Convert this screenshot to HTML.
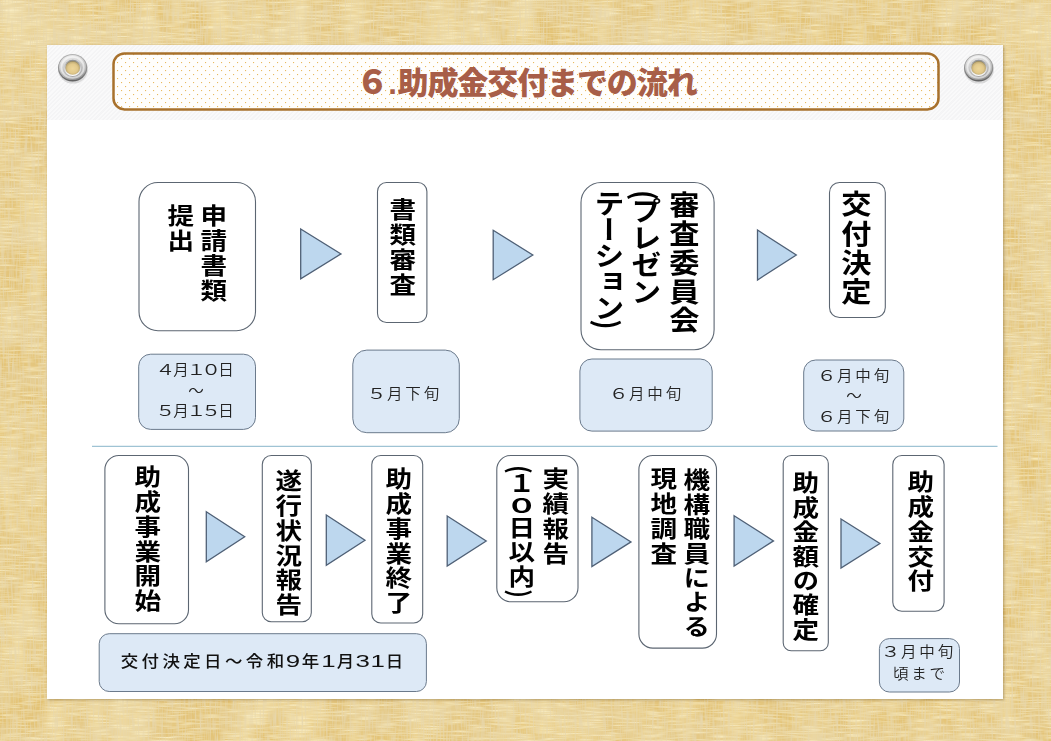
<!DOCTYPE html>
<html lang="ja"><head><meta charset="utf-8"><title>6.助成金交付までの流れ</title>
<style>
html,body{margin:0;padding:0}
body{width:1051px;height:741px;overflow:hidden;position:relative;background:#e6d196;font-family:"Liberation Sans","Noto Sans CJK JP",sans-serif}
#bg{position:absolute;left:0;top:0;width:1051px;height:741px}
#sheet{position:absolute;left:47.3px;top:44.8px;width:956px;height:653.8px;background:#fff;box-shadow:1px 1px 2.5px rgba(90,60,10,.38)}
#band{position:absolute;left:0;top:0;width:100%;height:75.5px;background:#f5f5f6 repeating-linear-gradient(135deg,rgba(255,255,255,.45) 0 1.5px,rgba(240,240,242,.1) 1.5px 3px)}
#ttext{position:absolute;z-index:3;left:356px;top:61.2px;height:44px;line-height:44px;font-size:31px;font-weight:900;color:#a85e48;white-space:nowrap;letter-spacing:-1.1px;font-family:"Liberation Sans","Noto Sans CJK JP",sans-serif}
#shapes{position:absolute;left:0;top:0}
.v{position:absolute;writing-mode:vertical-rl;text-orientation:mixed;line-height:1;font-weight:700;transform:scaleY(.94);transform-origin:50% 0;letter-spacing:.064em;color:#000;white-space:nowrap;font-family:"Noto Sans CJK JP","Liberation Sans",sans-serif}
.z{display:inline-block;letter-spacing:-2.6px;transform:scale(1.22,.86);transform-origin:50% 40%}
.d{position:absolute;width:120px;height:20px;text-align:center;color:#222;font-weight:350;white-space:nowrap;font-family:"Liberation Sans","Noto Sans CJK JP",sans-serif;font-size:14.6px;line-height:20px;transform:scaleX(1.064);letter-spacing:var(--ls);text-indent:var(--ls)}
.w{display:inline-block;letter-spacing:0;text-indent:0;margin-right:var(--ls);transform:scaleX(1.3)}
.n{display:inline-block;width:10.05px;margin-right:var(--ls);letter-spacing:0;text-indent:0;text-align:center;transform:scaleX(1.42);font-size:17px}
.g{position:absolute;width:30px;height:30px}
</style></head><body>
<svg id="bg" width="1051" height="741">
<defs>
<filter id="fh" x="0" y="0" width="100%" height="100%"><feTurbulence type="fractalNoise" baseFrequency="0.045 0.6" numOctaves="2" seed="3"/><feColorMatrix values="0 0 0 0 0.965  0 0 0 0 0.872  0 0 0 0 0.575  1.9 0 0 0 -0.80"/></filter>
<filter id="fv" x="0" y="0" width="100%" height="100%"><feTurbulence type="fractalNoise" baseFrequency="0.6 0.045" numOctaves="2" seed="8"/><feColorMatrix values="0 0 0 0 0.80  0 0 0 0 0.68  0 0 0 0 0.42  1.9 0 0 0 -0.72"/></filter>
<filter id="fb" x="0" y="0" width="100%" height="100%"><feTurbulence type="fractalNoise" baseFrequency="0.035 0.012" numOctaves="3" seed="5"/><feColorMatrix values="0 0 0 0 0.96  0 0 0 0 0.868  0 0 0 0 0.565  1.1 0 0 0 -0.39"/></filter>
<filter id="fd" x="0" y="0" width="100%" height="100%"><feTurbulence type="fractalNoise" baseFrequency="0.012 0.04" numOctaves="3" seed="11"/><feColorMatrix values="0 0 0 0 0.81  0 0 0 0 0.69  0 0 0 0 0.43  1.0 0 0 0 -0.32"/></filter>
</defs>
<rect width="1051" height="741" fill="#e3c274"/>
<rect width="1051" height="741" filter="url(#fb)"/>
<rect width="1051" height="741" filter="url(#fd)"/>
<rect width="1051" height="741" filter="url(#fh)"/>
<rect width="1051" height="741" filter="url(#fv)"/>
</svg>
<div id="sheet"><div id="band"></div></div>
<div id="ttext"><span style="font-size:33px;letter-spacing:-0.7px">６</span><span style="letter-spacing:0.6px">.</span>助成金交付までの流れ</div>
<svg width="0" height="0" style="position:absolute"><defs>
<linearGradient id="go" x1="0" y1="0" x2="0" y2="1"><stop offset="0" stop-color="#b4b4b4"/><stop offset=".6" stop-color="#8d8d8d"/><stop offset="1" stop-color="#5f5f5f"/></linearGradient>
<linearGradient id="gm" x1="0.2" y1="0" x2="0.5" y2="1"><stop offset="0" stop-color="#ececec"/><stop offset=".4" stop-color="#d2d2d2"/><stop offset=".8" stop-color="#b2b2b2"/><stop offset="1" stop-color="#929292"/></linearGradient>
<linearGradient id="gi" x1="0" y1="0" x2="0" y2="1"><stop offset="0" stop-color="#8f8f8f"/><stop offset=".55" stop-color="#d8d8d8"/><stop offset="1" stop-color="#ffffff"/></linearGradient>
<radialGradient id="gh" cx=".5" cy=".55" r=".55"><stop offset="0" stop-color="#edd699"/><stop offset=".6" stop-color="#e2c98b"/><stop offset=".85" stop-color="#c4ae76"/><stop offset="1" stop-color="#85784f"/></radialGradient>
<g id="grom"><ellipse cx="15" cy="15.2" rx="15" ry="14.4" fill="rgba(110,110,110,.22)"/><ellipse cx="14.6" cy="13.8" rx="14.6" ry="13.8" fill="url(#go)"/><ellipse cx="14.6" cy="13.5" rx="13.5" ry="12.6" fill="url(#gm)"/><ellipse cx="14.6" cy="13.4" rx="11.2" ry="10.5" fill="none" stroke="#fff" stroke-opacity=".55" stroke-width="1.8"/><ellipse cx="14.7" cy="13.9" rx="8.5" ry="8.1" fill="url(#gi)"/><ellipse cx="14.7" cy="13.9" rx="7.3" ry="6.9" fill="url(#gh)"/></g>
</defs></svg>
<svg class="g" style="left:57.9px;top:53.8px" viewBox="0 0 30 30"><use href="#grom"/></svg>
<svg class="g" style="left:964px;top:53.9px" viewBox="0 0 30 30"><use href="#grom"/></svg>
<svg id="shapes" width="1051" height="741">
<defs><pattern id="dots" width="8" height="8" patternUnits="userSpaceOnUse" x="1" y="2"><rect x="0" y="0" width="1.1" height="1.1" fill="#e9bb60"/><rect x="4" y="4" width="1.1" height="1.1" fill="#e9bb60"/></pattern></defs><rect x="113.5" y="53.4" width="825" height="56" rx="11" fill="#fffefc"/><rect x="113.5" y="53.4" width="825" height="56" rx="11" fill="url(#dots)" stroke="#a8712c" stroke-width="2.5"/>
<rect x="139.0" y="182.5" width="116.5" height="148.3" rx="19" fill="#fff" stroke="#5c6672" stroke-width="1.1"/>
<rect x="377.5" y="182.5" width="49.4" height="140.0" rx="9" fill="#fff" stroke="#5c6672" stroke-width="1.1"/>
<rect x="581.0" y="182.5" width="133.1" height="167.3" rx="20" fill="#fff" stroke="#5c6672" stroke-width="1.1"/>
<rect x="829.5" y="182.5" width="55.8" height="135.0" rx="10" fill="#fff" stroke="#5c6672" stroke-width="1.1"/>
<rect x="104.9" y="455.5" width="83.6" height="168.3" rx="14" fill="#fff" stroke="#5c6672" stroke-width="1.1"/>
<rect x="262.3" y="455.5" width="49.0" height="166.3" rx="9" fill="#fff" stroke="#5c6672" stroke-width="1.1"/>
<rect x="371.8" y="455.5" width="50.9" height="167.5" rx="9" fill="#fff" stroke="#5c6672" stroke-width="1.1"/>
<rect x="496.8" y="455.5" width="81.2" height="146.3" rx="14" fill="#fff" stroke="#5c6672" stroke-width="1.1"/>
<rect x="638.9" y="455.5" width="77.6" height="192.6" rx="14" fill="#fff" stroke="#5c6672" stroke-width="1.1"/>
<rect x="783.2" y="455.5" width="45.1" height="195.3" rx="8" fill="#fff" stroke="#5c6672" stroke-width="1.1"/>
<rect x="892.8" y="455.5" width="51.3" height="155.8" rx="9" fill="#fff" stroke="#5c6672" stroke-width="1.1"/>
<rect x="138.7" y="354.2" width="116.8" height="75.2" rx="12" fill="#dde9f6" stroke="#6b7a8c" stroke-width="1"/>
<rect x="352.8" y="350.1" width="106.5" height="82.6" rx="14" fill="#dde9f6" stroke="#6b7a8c" stroke-width="1"/>
<rect x="579.9" y="359.0" width="132.3" height="72.1" rx="12" fill="#dde9f6" stroke="#6b7a8c" stroke-width="1"/>
<rect x="803.7" y="360.0" width="100.1" height="71.0" rx="12" fill="#dde9f6" stroke="#6b7a8c" stroke-width="1"/>
<rect x="99.2" y="633.7" width="327.2" height="57.8" rx="10" fill="#dde9f6" stroke="#6b7a8c" stroke-width="1"/>
<rect x="879.4" y="638.6" width="80.1" height="53.4" rx="10" fill="#dde9f6" stroke="#6b7a8c" stroke-width="1"/>
<polygon points="300.7,229.0 341.0,253.9 300.7,278.8" fill="#bdd7ee" stroke="#4f6076" stroke-width="1.3" stroke-linejoin="miter"/>
<polygon points="493.2,230.3 532.8,255.0 493.2,279.7" fill="#bdd7ee" stroke="#4f6076" stroke-width="1.3" stroke-linejoin="miter"/>
<polygon points="757.5,230.0 796.3,255.0 757.5,280.0" fill="#bdd7ee" stroke="#4f6076" stroke-width="1.3" stroke-linejoin="miter"/>
<polygon points="206.3,511.7 244.7,536.8 206.3,561.8" fill="#bdd7ee" stroke="#4f6076" stroke-width="1.3" stroke-linejoin="miter"/>
<polygon points="326.3,515.0 365.0,540.2 326.3,565.4" fill="#bdd7ee" stroke="#4f6076" stroke-width="1.3" stroke-linejoin="miter"/>
<polygon points="447.2,516.0 486.2,541.0 447.2,566.0" fill="#bdd7ee" stroke="#4f6076" stroke-width="1.3" stroke-linejoin="miter"/>
<polygon points="591.9,517.2 631.0,541.9 591.9,566.6" fill="#bdd7ee" stroke="#4f6076" stroke-width="1.3" stroke-linejoin="miter"/>
<polygon points="734.1,515.8 773.5,540.9 734.1,566.0" fill="#bdd7ee" stroke="#4f6076" stroke-width="1.3" stroke-linejoin="miter"/>
<polygon points="841.0,519.0 879.9,543.5 841.0,568.0" fill="#bdd7ee" stroke="#4f6076" stroke-width="1.3" stroke-linejoin="miter"/>
<line x1="92" y1="446.3" x2="997.5" y2="446.3" stroke="#9fc3d4" stroke-width="1.2"/>
</svg>
<div class="v" style="left:201.15px;top:204.1px;width:24.7px;font-size:24.7px;transform:scale(1.075,.94)">申請書類</div>
<div class="v" style="left:167.65px;top:204.1px;width:24.7px;font-size:24.7px;transform:scale(1.075,.94)">提出</div>
<div class="v" style="left:390.25px;top:198.4px;width:24.7px;font-size:24.7px;transform:scale(1.075,.94)">書類審査</div>
<div class="v" style="left:668.85px;top:191.3px;width:29.3px;font-size:29.3px;letter-spacing:1.3px;transform:scale(1.03,.94)">審査委員会</div>
<div class="v" style="left:631.35px;top:189.6px;width:29.3px;font-size:29.3px;letter-spacing:-0.9px;transform:scale(1.03,.94)"><span style="letter-spacing:-3.4px">(</span>プレゼン</div>
<div class="v" style="left:593.85px;top:190.2px;width:29.3px;font-size:29.3px;letter-spacing:-1.8px;transform:scale(1.03,.94)">テーション)</div>
<div class="v" style="left:840.55px;top:190.0px;width:29.3px;font-size:29.3px;transform:scale(1.03,.94)">交付決定</div>
<div class="v" style="left:134.65px;top:464.8px;width:24.7px;font-size:24.7px;transform:scale(1.075,.94)">助成事業開始</div>
<div class="v" style="left:276.15px;top:468.8px;width:24.7px;font-size:24.7px;transform:scale(1.075,.94)">遂行状況報告</div>
<div class="v" style="left:385.95px;top:466.8px;width:24.7px;font-size:24.7px;transform:scale(1.075,.94)">助成事業終了</div>
<div class="v" style="left:543.25px;top:466.8px;width:24.7px;font-size:24.7px;transform:scale(1.075,.94)">実績報告</div>
<div class="v" style="left:509.45px;top:464.6px;width:24.7px;font-size:24.7px;transform:scale(1.075,.94)"><span style="letter-spacing:-1.6px">(</span><span style="letter-spacing:-1.2px">１</span><span class="z">０</span>日以内)</div>
<div class="v" style="left:684.05px;top:467.5px;width:24.7px;font-size:24.7px;letter-spacing:1.22px;transform:scale(1.075,.94)">機構職員による</div>
<div class="v" style="left:650.85px;top:467.3px;width:24.7px;font-size:24.7px;transform:scale(1.075,.94)">現地調査</div>
<div class="v" style="left:793.25px;top:471.3px;width:24.7px;font-size:24.7px;letter-spacing:1.22px;transform:scale(1.075,.94)">助成金額の確定</div>
<div class="v" style="left:907.65px;top:470.0px;width:24.7px;font-size:24.7px;transform:scale(1.075,.94)">助成金交付</div>
<div class="d" style="left:136.2px;top:360.4px;--ls:-0.47px"><span class="w">４</span>月<span class="w">１</span><span class="w">０</span>日</div>
<div class="d" style="left:136.0px;top:381.0px;--ls:0px">～</div>
<div class="d" style="left:136.2px;top:401.0px;--ls:-0.47px"><span class="w">５</span>月<span class="w">１</span><span class="w">５</span>日</div>
<div class="d" style="left:344.0px;top:383.7px;--ls:2.6px"><span class="w">５</span>月下旬</div>
<div class="d" style="left:585.8px;top:383.9px;--ls:2.6px"><span class="w">６</span>月中旬</div>
<div class="d" style="left:793.6px;top:366.2px;--ls:2.6px"><span class="w">６</span>月中旬</div>
<div class="d" style="left:793.9px;top:385.5px;--ls:0px">～</div>
<div class="d" style="left:793.6px;top:406.9px;--ls:2.6px"><span class="w">６</span>月下旬</div>
<div class="d" style="left:858.0px;top:641.7px;--ls:2.6px"><span class="w">３</span>月中旬</div>
<div class="d" style="left:858.8px;top:663.6px;--ls:2.5px">頃まで</div>
<div class="d" id="d5" style="left:98.3px;top:649px;width:328px;height:24px;font-weight:500;font-size:16.3px;line-height:24px;--ls:3.2px;color:#111;transform:scaleX(1.07)">交付決定日～令和<span class="n">9</span>年<span class="n">1</span>月<span class="n">3</span><span class="n">1</span>日</div>
</body></html>
